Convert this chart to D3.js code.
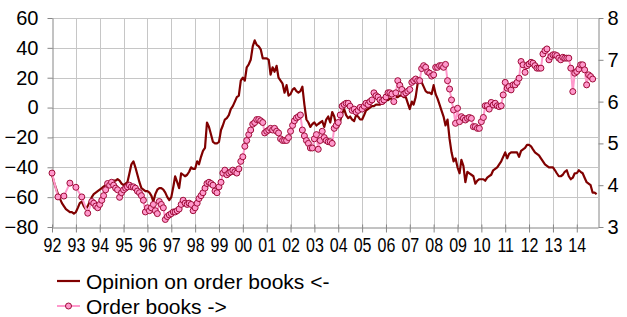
<!DOCTYPE html>
<html>
<head>
<meta charset="utf-8">
<script src="https://cdn.jsdelivr.net/npm/d3@7"></script>
<style>
  body { margin: 0; background: #fff; }
  text { font-family: "Liberation Sans", Arial, sans-serif; fill: #000; }
  .tick text { font-size: 20px; }
  .legend text { font-size: 21px; }
</style>
</head>
<body>
<div class="svg-container"></div>
<script>
var width = 627;
var height = 317;

// monthly, Jan 1992 .. Nov 2014 (balance, left axis)
var opinion = [
  -45,-50,-54,-58,-61,-64,-66,-68,-69,-70,-70,-71,   // 92
  -70,-67,-64,-63,-66,-68,-66,-63,-60,-58,-57,-56,   // 93
  -55,-54,-53,-52,-51,-50,-50,-49,-49,-48,-49,-51,   // 94
  -52,-51,-50,-44,-38,-36,-40,-45,-50,-54,-55,-56,   // 95
  -56,-57,-59,-63,-58,-55,-54,-54,-55,-57,-60,-62,   // 96
  -60,-53,-46,-50,-54,-44,-45,-46,-45,-43,-40,-41,   // 97
  -41,-36,-38,-33,-29,-27,-10,-13,-18,-23,-24,-24,   // 98
  -23,-15,-12,-8,-7,-5,-1,1,4,7,8,18,                // 99
  20,18,27,29,32,41,45,42,41,39,33,33,               // 00
  33,32,22,27,24,28,20,18,16,10,15,8,                // 01
  9,12,13,11,10,11,14,2,-8,-10,-13,-11,              // 02
  -10,-12,-11,-10,-9,-13,-8,-6,-10,-3,-6,-12,        // 03
  -13,-9,-4,-1,-5,-7,-6,-8,-9,-5,-6,-8,              // 04
  -8,-5,-2,-1,0,1,1,2,2,2,3,3,                       // 05
  5,5,6,6,7,7,7,8,8,7,7,3,                           // 06
  -1,4,2,7,16,20,17,14,11,10,10,9,                   // 07
  15,9,6,2,-2,-6,-12,-8,-21,-30,-36,-34,             // 08
  -40,-44,-35,-39,-50,-43,-44,-45,-46,-51,-49,-48,   // 09
  -48,-48,-49,-47,-46,-45,-42,-41,-40,-38,-36,-33,   // 10
  -30,-34,-31,-30,-30,-30,-30,-33,-29,-28,-27,-25,   // 11
  -25,-26,-28,-30,-31,-32,-34,-36,-38,-39,-40,-40,   // 12
  -40,-42,-44,-46,-46,-45,-43,-42,-46,-48,-47,-44,   // 13
  -44,-42,-43,-44,-47,-50,-51,-52,-57,-57,-58        // 14
];

// monthly, Jan 1992 .. Sep 2014 (right axis), quarterly until mid 1993
var orderBooks = [
  4.29,null,null,3.72,null,null,3.74,null,null,4.05,null,null,   // 92
  3.95,null,null,3.72,null,null,3.33,null,3.61,3.57,3.50,3.46,   // 93
  3.54,3.64,3.75,3.89,4.04,4.00,4.07,4.00,3.93,3.89,3.71,3.82,   // 94
  3.89,3.93,3.96,4.00,3.96,3.96,3.93,3.86,3.82,3.75,3.64,3.36,   // 95
  3.46,3.39,3.46,3.54,3.39,3.32,3.61,3.54,3.46,3.18,3.25,3.29,   // 96
  3.32,3.36,3.36,3.39,3.43,3.54,3.64,3.57,3.54,3.57,3.54,3.39,   // 97
  3.46,3.57,3.68,3.75,3.82,3.93,4.04,4.07,4.04,4.00,3.86,3.82,   // 98
  3.96,4.07,4.29,4.36,4.25,4.29,4.32,4.36,4.32,4.29,4.39,4.57,   // 99
  4.68,4.93,5.07,5.21,5.32,5.46,5.50,5.57,5.57,5.54,5.50,5.25,   // 00
  5.29,5.32,5.36,5.32,5.36,5.29,5.25,5.11,5.07,5.07,5.07,5.14,   // 01
  5.29,5.43,5.54,5.61,5.64,5.68,5.32,5.18,5.07,5.00,4.89,4.89,   // 02
  5.11,5.21,4.86,5.07,5.29,5.14,5.07,5.04,5.04,5.00,5.36,5.43,   // 03
  5.50,5.68,5.89,5.93,5.96,5.96,5.89,5.79,5.82,5.75,5.79,5.86,   // 04
  5.82,5.89,5.96,5.93,6.00,6.04,6.21,6.14,6.11,6.04,6.00,6.04,   // 05
  6.11,6.21,6.21,6.18,6.00,6.21,6.50,6.39,6.29,6.18,6.21,6.25,   // 06
  6.29,6.46,6.50,6.54,6.50,6.50,6.79,6.86,6.82,6.71,6.68,6.61,   // 07
  6.64,6.82,6.82,6.86,6.86,6.82,6.89,6.50,6.30,6.04,5.80,5.48,   // 08
  5.84,5.52,5.64,5.60,5.56,5.60,5.62,5.60,5.40,5.40,5.36,5.36,   // 09
  5.52,5.62,5.90,5.90,5.82,5.98,5.92,5.96,5.90,5.88,5.90,6.16,   // 10
  6.46,6.32,6.36,6.28,6.40,6.40,6.46,6.56,6.96,6.88,6.70,6.86,   // 11
  6.90,6.94,6.92,6.86,6.80,6.80,6.80,7.14,7.22,7.26,7.00,7.08,   // 12
  7.12,7.12,7.10,7.04,7.00,7.06,7.04,7.04,7.04,6.80,6.24,6.68,   // 13
  6.72,6.78,6.88,6.88,6.76,6.40,6.64,6.60,6.54                   // 14
];

var leftTicks = [-80, -60, -40, -20, 0, 20, 40, 60];
var rightTicks = [3, 4, 5, 6, 7, 8];
var yearTicks = d3.range(1992, 2015);
var legendLabels = ["Opinion on order books <-", "Order books ->"];

var colOpinion = "#800000";
var colOrder = "#ff99cc";
var colMarker = "#9e0b38";
var gridCol = "#c6c6c6";
var axisCol = "#868686";

var plot = { left: 52, right: 598, top: 18, bottom: 227 };

var svg = d3.select(".svg-container")
            .append("svg")
            .attr("width", width)
            .attr("height", height);

function monthDate(i) { return new Date(1992, i, 1); }

var scaleX = d3.scaleTime()
              .domain([new Date(1992, 0, 1), new Date(2014, 10, 22)])
              .range([plot.left, plot.right]);

var scaleYL = d3.scaleLinear().domain([-80, 60]).range([plot.bottom, plot.top]);
var scaleYR = d3.scaleLinear().domain([3, 8]).range([plot.bottom, plot.top]);

var opinionData = opinion.map(function(v, i) { return { date: monthDate(i), value: v }; });
var orderData = orderBooks.map(function(v, i) { return { date: monthDate(i), value: v }; })
                          .filter(function(d) { return d.value !== null; });

// grid
var grid = svg.append("g").attr("shape-rendering", "crispEdges");
grid.selectAll(".hgrid")
    .data(leftTicks.filter(function(d) { return d > -80; }))
    .enter().append("line")
    .attr("x1", plot.left).attr("x2", plot.right)
    .attr("y1", function(d) { return Math.round(scaleYL(d)) + 0.5; })
    .attr("y2", function(d) { return Math.round(scaleYL(d)) + 0.5; })
    .attr("stroke", gridCol);
grid.selectAll(".vgrid")
    .data(yearTicks.slice(1))
    .enter().append("line")
    .attr("x1", function(d) { return Math.round(scaleX(new Date(d, 0, 1))) + 0.5; })
    .attr("x2", function(d) { return Math.round(scaleX(new Date(d, 0, 1))) + 0.5; })
    .attr("y1", plot.top).attr("y2", plot.bottom)
    .attr("stroke", gridCol);

// axes
function styleAxis(g) {
  g.selectAll(".domain").attr("stroke", axisCol);
  g.selectAll(".tick line").attr("stroke", axisCol);
  g.selectAll(".tick text").attr("fill", "#000");
}

svg.append("g")
   .attr("transform", "translate(" + (plot.left + 0.5) + ",0)")
   .call(d3.axisLeft(scaleYL).tickValues(leftTicks).tickSize(5).tickSizeOuter(0).tickPadding(9))
   .call(styleAxis);

svg.append("g")
   .attr("transform", "translate(" + (plot.right + 0.5) + ",0)")
   .call(d3.axisRight(scaleYR).tickValues(rightTicks).tickFormat(d3.format("d"))
           .tickSize(5).tickSizeOuter(0).tickPadding(4))
   .call(styleAxis);

var xAxis = svg.append("g")
   .attr("transform", "translate(0," + (plot.bottom + 0.5) + ")")
   .call(d3.axisBottom(scaleX)
           .tickValues(yearTicks.map(function(y) { return new Date(y, 0, 1); }))
           .tickFormat(d3.timeFormat("%y"))
           .tickSize(5).tickSizeOuter(0).tickPadding(5))
   .call(styleAxis);
xAxis.selectAll(".tick line").attr("y1", -3);
// year labels are narrow in the original
xAxis.selectAll(".tick text").attr("transform", "scale(0.8,1)");

// series
var lineL = d3.line()
              .x(function(d) { return scaleX(d.date); })
              .y(function(d) { return scaleYL(d.value); });
var lineR = d3.line()
              .x(function(d) { return scaleX(d.date); })
              .y(function(d) { return scaleYR(d.value); });

svg.append("path")
   .datum(opinionData)
   .attr("fill", "none")
   .attr("stroke", colOpinion)
   .attr("stroke-width", 2.2)
   .attr("stroke-linejoin", "round")
   .attr("d", lineL);

svg.append("path")
   .datum(orderData)
   .attr("fill", "none")
   .attr("stroke", colOrder)
   .attr("stroke-width", 2)
   .attr("stroke-linejoin", "round")
   .attr("d", lineR);

svg.append("g")
   .selectAll("circle")
   .data(orderData)
   .enter().append("circle")
   .attr("cx", function(d) { return scaleX(d.date); })
   .attr("cy", function(d) { return scaleYR(d.value); })
   .attr("r", 3)
   .attr("fill", colOrder)
   .attr("stroke", colMarker)
   .attr("stroke-width", 1);

// legend
var legend = svg.append("g").attr("class", "legend");
var rows = [281, 306];
legend.append("line")
      .attr("x1", 57).attr("x2", 80).attr("y1", rows[0]).attr("y2", rows[0])
      .attr("stroke", colOpinion).attr("stroke-width", 2.2);
legend.append("line")
      .attr("x1", 57).attr("x2", 80).attr("y1", rows[1]).attr("y2", rows[1])
      .attr("stroke", colOrder).attr("stroke-width", 2);
legend.append("circle")
      .attr("cx", 68.5).attr("cy", rows[1]).attr("r", 3)
      .attr("fill", colOrder).attr("stroke", colMarker).attr("stroke-width", 1);
legend.selectAll("text")
      .data(legendLabels)
      .enter().append("text")
      .attr("x", 86)
      .attr("y", function(d, i) { return rows[i]; })
      .attr("dy", "0.36em")
      .text(function(d) { return d; });
</script>
</body>
</html>
